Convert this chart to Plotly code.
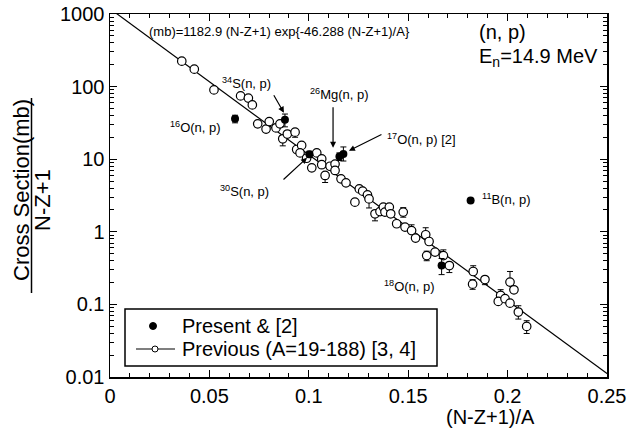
import plotly.graph_objects as go
import math

# ---------------- data ----------------
prev_x = [0.0361, 0.0424, 0.0523, 0.0657, 0.0696, 0.0716, 0.0743, 0.0785, 0.0801, 0.0835,
          0.0855, 0.0869, 0.0892, 0.0931, 0.0939, 0.0964, 0.0956, 0.0989, 0.1015, 0.1040,
          0.1065, 0.1065, 0.1082, 0.1107, 0.1132, 0.1132, 0.1162, 0.1187, 0.1232, 0.1254,
          0.1271, 0.1295, 0.1303, 0.1333, 0.1358, 0.1375, 0.1383, 0.1405, 0.1412, 0.1475,
          0.1442, 0.1484, 0.1517, 0.1537, 0.1588, 0.1605, 0.1593, 0.1635, 0.1677, 0.1707,
          0.1827, 0.1824, 0.1886, 0.1965, 0.1953, 0.1987, 0.2012, 0.2032, 0.2012, 0.2054,
          0.2096]
prev_y = [224, 174, 90, 74.5, 69.5, 56, 30.7, 26, 33, 27,
          30.7, 19.1, 22.2, 23.6, 13.6, 15.5, 12.2, 10.3, 7.6, 12.2,
          10.1, 8.4, 5.97, 8.0, 8.56, 7.0, 5.36, 4.73, 2.56, 3.9,
          3.63, 3.23, 2.84, 1.77, 1.9, 2.19, 1.87, 2.19, 1.77, 1.87,
          1.29, 1.16, 1.04, 0.82, 0.91, 0.735, 0.47, 0.525, 0.47, 0.343,
          0.284, 0.19, 0.22, 0.133, 0.110, 0.12, 0.203, 0.159, 0.104, 0.0785,
          0.0497]
# relative errors (upper / lower)
prev_err_up = [0, 0, 0, 0, 0, 0, 0, 0, 0, 0,
               0, 0.10, 0, 0.10, 0, 0, 0, 0, 0, 0,
               0, 0, 0.10, 0, 0, 0, 0, 0, 0, 0,
               0, 0, 0.10, 0.10, 0, 0, 0, 0, 0, 0.15,
               0, 0, 0.20, 0, 0.25, 0, 0.15, 0, 0.20, 0.10,
               0.20, 0.15, 0.10, 0.20, 0, 0, 0.40, 0, 0, 0.22,
               0.20]
prev_err_dn = [0, 0, 0, 0, 0, 0, 0, 0, 0, 0,
               0, 0.20, 0, 0.15, 0, 0, 0, 0, 0, 0,
               0, 0, 0.20, 0, 0, 0, 0, 0, 0, 0,
               0, 0, 0.25, 0.20, 0, 0, 0, 0, 0, 0.15,
               0, 0, 0.05, 0, 0.05, 0, 0.15, 0, 0.05, 0.20,
               0.05, 0.15, 0.15, 0.05, 0, 0, 0.10, 0, 0, 0.20,
               0.20]

present_x = [0.0629, 0.0880, 0.1003, 0.1154, 0.1174, 0.1814, 0.1668]
present_y = [36.0, 34.9, 11.7, 10.9, 11.8, 2.7, 0.343]
present_err_up = [0.12, 0.20, 0.10, 0.12, 0.25, 0.0, 0.25]
present_err_dn = [0.12, 0.20, 0.10, 0.12, 0.20, 0.0, 0.25]

# fit: sigma/(N-Z+1) (mb) = 1182.9 exp{-46.288 (N-Z+1)/A}
fit_a = 1182.9
fit_b = 46.288
fit_x = [0.0, 0.26]
fit_y = [fit_a * math.exp(-fit_b * x) for x in fit_x]

y_tickvals = [0.01, 0.1, 1, 10, 100, 1000]
y_ticktext = ["0.01", "0.1", "1", "10", "100", "1000"]
x_tickvals = [0, 0.05, 0.1, 0.15, 0.2, 0.25]
x_ticktext = ["0", "0.05", "0.1", "0.15", "0.2", "0.25"]
y_minor = [m * 10 ** e for e in range(-2, 3) for m in range(2, 10)]
x_minor = [i / 100 for i in range(1, 25)]

legend_labels = ["Present & [2]", "Previous (A=19-188) [3, 4]"]

FONT = "Liberation Sans, Arial, sans-serif"

# layout geometry (pixels)
W, H = 634, 432
ML, MR, MT, MB = 110, 27, 14, 55
PW, PH = W - ML - MR, H - MT - MB
def px2paper_x(px):
    return (px - ML) / PW
def px2paper_y(py):
    return (H - MB - py) / PH

fig = go.Figure()

fig.add_trace(go.Scatter(
    x=fit_x, y=fit_y, mode="lines", showlegend=False,
    line=dict(color="black", width=1.2), hoverinfo="skip"))

fig.add_trace(go.Scatter(
    x=prev_x, y=prev_y, mode="markers", showlegend=False,
    marker=dict(symbol="circle", size=8.5, color="white", line=dict(color="black", width=1.2)),
    error_y=dict(type="data", symmetric=False,
                 array=[y * e for y, e in zip(prev_y, prev_err_up)],
                 arrayminus=[y * e for y, e in zip(prev_y, prev_err_dn)],
                 color="black", thickness=1, width=3)))

fig.add_trace(go.Scatter(
    x=present_x, y=present_y, mode="markers", showlegend=False,
    marker=dict(symbol="circle", size=8, color="black"),
    error_y=dict(type="data", symmetric=False,
                 array=[y * e for y, e in zip(present_y, present_err_up)],
                 arrayminus=[y * e for y, e in zip(present_y, present_err_dn)],
                 color="black", thickness=1, width=3)))

# ---------------- annotations ----------------
ann = []
def txt(x, ylog, s, size=13, xanchor="left"):
    ann.append(dict(x=x, y=ylog, xref="x", yref="y", text=s, showarrow=False,
                    xanchor=xanchor, yanchor="middle", font=dict(size=size, color="black", family=FONT)))

txt(0.0186, 2.755, "(mb)=1182.9 (N-Z+1) exp{-46.288 (N-Z+1)/A}", 13)
txt(0.1846, 2.755, "(n, p)", 20)
txt(0.1846, 2.40, "E<sub>n</sub>=14.9 MeV", 20)
txt(0.0553, 2.052, "<sup>34</sup>S(n, p)")
txt(0.0292, 1.446, "<sup>16</sup>O(n, p)")
txt(0.0543, 0.565, "<sup>30</sup>S(n, p)")
txt(0.0996, 1.901, "<sup>26</sup>Mg(n, p)")
txt(0.1383, 1.281, "<sup>17</sup>O(n, p) [2]")
txt(0.1861, 0.455, "<sup>11</sup>B(n, p)")
txt(0.1368, -0.744, "<sup>18</sup>O(n, p)")

def arrow(x, ylog, ax, ay):
    ann.append(dict(x=x, y=ylog, xref="x", yref="y", text="", showarrow=True,
                    ax=ax, ay=ay, arrowhead=2, arrowsize=1, arrowwidth=1.2, arrowcolor="black"))

arrow(0.0875, 1.639, -11, -19)
arrow(0.0991, 1.019, -25, 23)
arrow(0.1122, 1.157, 0, -42)
arrow(0.1202, 1.116, 34, -17)

# axis titles
ann.append(dict(x=px2paper_x(21), y=px2paper_y(190), xref="paper", yref="paper", text="Cross Section(mb)",
                textangle=-90, showarrow=False, xanchor="center", yanchor="middle",
                font=dict(size=22, color="black", family=FONT)))
ann.append(dict(x=px2paper_x(42), y=px2paper_y(200), xref="paper", yref="paper", text="N-Z+1",
                textangle=-90, showarrow=False, xanchor="center", yanchor="middle",
                font=dict(size=22, color="black", family=FONT)))
ann.append(dict(x=px2paper_x(490), y=px2paper_y(417), xref="paper", yref="paper", text="(N-Z+1)/A",
                showarrow=False, xanchor="center", yanchor="middle",
                font=dict(size=20, color="black", family=FONT)))

# legend texts
ann.append(dict(x=px2paper_x(180), y=px2paper_y(326), xref="paper", yref="paper", text=legend_labels[0],
                showarrow=False, xanchor="left", yanchor="middle",
                font=dict(size=20, color="black", family=FONT)))
ann.append(dict(x=px2paper_x(180), y=px2paper_y(349), xref="paper", yref="paper", text=legend_labels[1],
                showarrow=False, xanchor="left", yanchor="middle",
                font=dict(size=20, color="black", family=FONT)))

shapes = [
    # fraction bar of y title
    dict(type="line", xref="paper", yref="paper", x0=px2paper_x(31.5), x1=px2paper_x(31.5),
         y0=px2paper_y(293), y1=px2paper_y(98), line=dict(color="black", width=1.5)),
    # legend box
    dict(type="rect", xref="paper", yref="paper", x0=px2paper_x(125), x1=px2paper_x(437),
         y0=px2paper_y(366), y1=px2paper_y(309), line=dict(color="black", width=1.5),
         fillcolor="white", layer="above"),
    # legend symbol: present
    dict(type="circle", xref="paper", yref="paper", xsizemode="pixel", ysizemode="pixel",
         xanchor=px2paper_x(153), yanchor=px2paper_y(326), x0=-3.5, x1=3.5, y0=-3.5, y1=3.5,
         fillcolor="black", line=dict(color="black", width=1), layer="above"),
    # legend symbol: previous (line + open circle)
    dict(type="line", xref="paper", yref="paper", x0=px2paper_x(136), x1=px2paper_x(175),
         y0=px2paper_y(349), y1=px2paper_y(349), line=dict(color="black", width=1.2), layer="above"),
    dict(type="circle", xref="paper", yref="paper", xsizemode="pixel", ysizemode="pixel",
         xanchor=px2paper_x(155), yanchor=px2paper_y(349), x0=-3, x1=3, y0=-3, y1=3,
         fillcolor="white", line=dict(color="black", width=1), layer="above"),
]

fig.update_layout(
    width=W, height=H,
    margin=dict(l=ML, r=MR, t=MT, b=MB),
    paper_bgcolor="white", plot_bgcolor="white",
    font=dict(family=FONT, size=20, color="black"),
    annotations=ann,
    shapes=shapes,
    showlegend=False,
)

fig.update_xaxes(
    range=[0, 0.25], tickmode="array", tickvals=x_tickvals, ticktext=x_ticktext,
    ticks="inside", ticklen=7, tickwidth=1.2, tickcolor="black",
    showline=True, linecolor="black", linewidth=1.5, mirror="allticks",
    showgrid=False, zeroline=False, tickfont=dict(size=20), automargin=False,
    minor=dict(tickmode="array", tickvals=x_minor,
               ticks="inside", ticklen=4, tickwidth=1, tickcolor="black", showgrid=False),
)
fig.update_yaxes(
    type="log", range=[-2, 3], tickmode="array", tickvals=y_tickvals, ticktext=y_ticktext,
    ticks="inside", ticklen=7, tickwidth=1.2, tickcolor="black",
    showline=True, linecolor="black", linewidth=1.5, mirror="allticks",
    showgrid=False, zeroline=False, tickfont=dict(size=20), automargin=False,
    minor=dict(tickmode="array", tickvals=y_minor,
               ticks="inside", ticklen=4, tickwidth=1, tickcolor="black", showgrid=False),
)

fig.write_html("out.html",
               config={"displayModeBar": False, "staticPlot": True},
               post_script="document.body.style.margin='0';document.body.style.overflow='hidden';")
